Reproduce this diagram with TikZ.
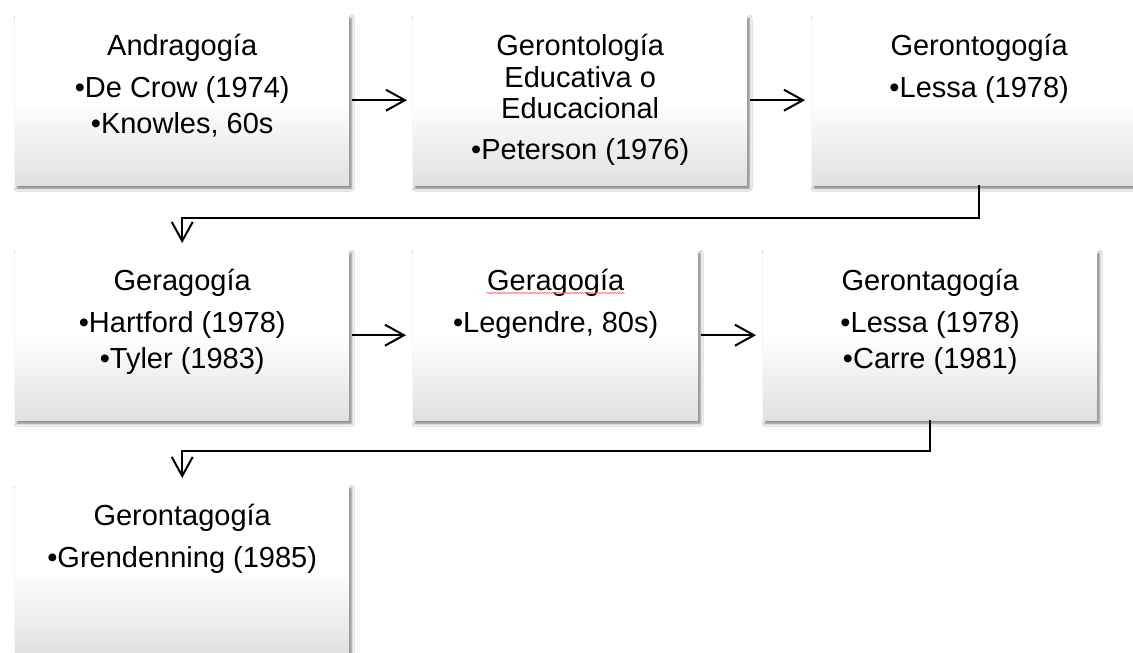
\documentclass[tikz,border=0pt]{standalone}
\usepackage{fontspec}
\setmainfont{Liberation Sans}
\usetikzlibrary{arrows.meta,shadows.blur,calc,decorations.pathmorphing}
\newcommand\bul{•}
\begin{document}
\begin{tikzpicture}[x=1pt,y=-1pt,
  box/.style={rectangle, inner sep=0pt, top color=white, bottom color=black!12, middle color=white,
    minimum width=334pt, minimum height=170pt, anchor=north west,
    blur shadow={shadow xshift=2pt, shadow yshift=-3pt, shadow blur radius=3pt, shadow opacity=55}},
  txt/.style={anchor=north, inner sep=0pt, align=center, font=\fontsize{29}{31.5}\selectfont, yshift=-19pt},
  conn/.style={line width=2pt, -{Straight Barb[length=19pt,width=21pt]}}
]
\useasboundingbox (0,0) rectangle (1133,653);
\fill[white] (0,0) rectangle (1133,653);

\node[box] (A) at (15,15) {};
\node[box] (B) at (413,15) {};
\node[box] (C) at (812,15) {};
\node[box] (D) at (15,250) {};
\node[box, minimum width=285pt] (E) at (413,250) {};
\node[box] (F) at (763,250) {};
\node[box] (G) at (15,485) {};

\node[txt] (At) at (A.north) {Andragogía\\[10pt]\bul De Crow (1974)\\[5pt]\bul Knowles, 60s};
\node[txt] (Bt) at (B.north) {Gerontología\\Educativa o\\Educacional\\[9pt]\bul Peterson (1976)};
\node[txt] (Ct) at (C.north) {Gerontogogía\\[10pt]\bul Lessa (1978)};
\node[txt] (Dt) at (D.north) {Geragogía\\[10pt]\bul Hartford (1978)\\[5pt]\bul Tyler (1983)};
\node[txt] (Et) at (E.north) {Geragogía\\[10pt]\bul Legendre, 80s)};
\node[txt] (Ft) at (F.north) {Gerontagogía\\[10pt]\bul Lessa (1978)\\[5pt]\bul Carre (1981)};
\node[txt] (Gt) at (G.north) {Gerontagogía\\[10pt]\bul Grendenning (1985)};

\draw[red!55, line width=0.7pt, decorate, decoration={snake, amplitude=0.7pt, segment length=2.5pt}]
  ($(E.north)+(-69,43)$) -- ($(E.north)+(69,43)$);

\draw[conn, shorten <=3pt, shorten >=6pt] (A.east) -- (B.west);
\draw[conn, shorten <=3pt, shorten >=7pt] (B.east) -- (C.west);
\draw[conn, shorten >=7pt] (C.south) -- ++(0,33) -| (D.north);
\draw[conn, shorten <=3pt, shorten >=7pt] (D.east) -- (E.west);
\draw[conn, shorten <=3pt, shorten >=7pt] (E.east) -- (F.west);
\draw[conn, shorten >=7pt] (F.south) -- ++(0,31) -| (G.north);
\end{tikzpicture}
\end{document}
